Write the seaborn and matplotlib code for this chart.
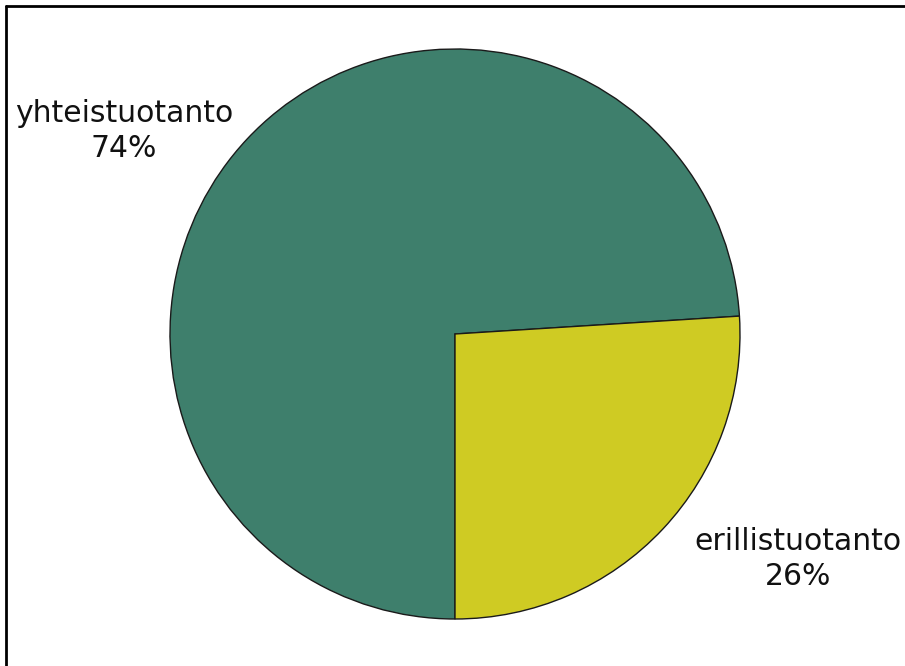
import matplotlib
matplotlib.use("Agg")
import matplotlib.pyplot as plt
import seaborn as sns
from matplotlib.lines import Line2D

# share of production
labels = ["yhteistuotanto", "erillistuotanto"]
shares = [74, 26]
colors = ["#3e7f6c", "#cfcb23"]

sns.set_theme(style="white")
plt.rcParams['font.family'] = ['DejaVu Sans']

W, H = 905, 666
fig = plt.figure(figsize=(W / 100, H / 100), dpi=100)
fig.patch.set_facecolor("white")

# pie centre (455, 334) px, radius 285 px
cx, cy, r = 455, 334, 285
ax = fig.add_axes([(cx - r) / W, (H - cy - r) / H, 2 * r / W, 2 * r / H])
start = 270 - shares[0] / sum(shares) * 360
ax.pie(shares, colors=colors, startangle=start, counterclock=True,
       wedgeprops=dict(edgecolor="#1a1a1a", linewidth=1.0))
ax.set_xlim(-1, 1)
ax.set_ylim(-1, 1)
ax.set_aspect("auto")
ax.axis("off")

# labels with percentages
fig.text(124 / W, 1 - 131 / H, f"{labels[0]}\n{shares[0]}%", ha="center", va="center",
         fontsize=21.5, color="#111111", linespacing=1.22)
fig.text(798 / W, 1 - 559 / H, f"{labels[1]}\n{shares[1]}%", ha="center", va="center",
         fontsize=21.5, color="#111111", linespacing=1.22)

# frame: only left and top edges are visible
fig.add_artist(Line2D([6 / W, 6 / W], [0, 1 - 6 / H], color="black", linewidth=2,
                      transform=fig.transFigure))
fig.add_artist(Line2D([6 / W, 1], [1 - 6 / H, 1 - 6 / H], color="black", linewidth=2,
                      transform=fig.transFigure))

fig.savefig("out.png", dpi=100, facecolor="white")
